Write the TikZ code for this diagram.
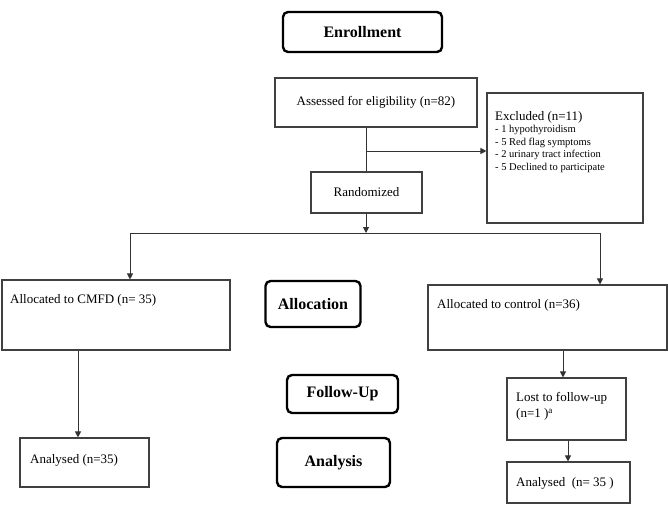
\documentclass[tikz,border=0pt]{standalone}
\usepackage{fontspec}
\setmainfont{Liberation Serif}
\usetikzlibrary{arrows.meta}
\begin{document}
\begin{tikzpicture}[x=1pt,y=-1pt,
  box/.style={draw=black!75, line width=1.1pt, inner sep=0pt},
  hdr/.style={draw=black, line width=2.4pt, rounded corners=5pt, inner sep=0pt, font=\fontsize{16}{18}\selectfont\bfseries},
  txt/.style={inner sep=0pt, anchor=west, font=\fontsize{13}{15}\selectfont},
  conn/.style={draw=black!80, line width=1pt},
  arr/.style={conn, -{Triangle[length=6pt,width=6pt]}}]
\useasboundingbox (0,0) rectangle (668,508);
% header boxes
\node[hdr, minimum width=159pt, minimum height=40pt] (enroll) at (362.5,32) {Enrollment};
\node[hdr, minimum width=95pt, minimum height=46pt] (alloc) at (313,304) {Allocation};
\node[hdr, minimum width=111pt, minimum height=38pt] (follow) at (342.5,394) {Follow-Up};
\node[hdr, minimum width=113pt, minimum height=49pt] (analysis) at (333.5,462.5) {Analysis};
% flow boxes
\node[box, minimum width=202pt, minimum height=49pt, font=\fontsize{13}{15}\selectfont] (assess) at (376,102.5) {Assessed for eligibility (n=82)};
\node[box, minimum width=156pt, minimum height=130pt] (excl) at (565,158) {};
\node[inner sep=0pt, anchor=north west, align=left, font=\fontsize{10.5}{12.5}\selectfont] (excltxt) at (495,111)
  {{\fontsize{13}{14}\selectfont Excluded (n=11)}\\- 1 hypothyroidism\\- 5 Red flag symptoms\\- 2 urinary tract infection\\- 5 Declined to participate};
\node[box, minimum width=111pt, minimum height=41pt, font=\fontsize{13}{15}\selectfont] (rand) at (366.5,192.5) {Randomized};
\node[box, minimum width=228pt, minimum height=70pt] (cmfd) at (116,315) {};
\node[txt] (cmfdtxt) at (10,300) {Allocated to CMFD (n= 35)};
\node[box, minimum width=239pt, minimum height=65pt] (ctrl) at (547.5,317.5) {};
\node[txt] (ctrltxt) at (437,305) {Allocated to control (n=36)};
\node[box, minimum width=119pt, minimum height=62pt] (lost) at (566.5,409) {};
\node[inner sep=0pt, anchor=north west, align=left, font=\fontsize{13}{16}\selectfont] (losttxt) at (516,392) {Lost to follow-up\\(n=1 )\textsuperscript{a}};
\node[box, minimum width=123pt, minimum height=41pt] (an2) at (568.5,482.5) {};
\node[txt] (an2txt) at (516,483) {Analysed~ (n= 35 )};
\node[box, minimum width=129pt, minimum height=49pt] (an1) at (84.5,462.5) {};
\node[txt] (an1txt) at (30,460) {Analysed (n=35)};
% connectors
\coordinate (split) at (366,151);
\coordinate (bar) at (366,233);
\coordinate (barL) at (130,233);
\coordinate (barR) at (600,233);
\draw[conn] (assess.south -| split) -- (rand.north -| split);
\draw[arr] (split) -- (excl.west |- split);
\draw[arr] (rand.south -| bar) -- (bar);
\draw[conn] (barL) -- (barR);
\draw[arr] (barL) -- (cmfd.north -| barL);
\draw[arr] (barR) -- (ctrl.north -| barR);
\draw[arr] (cmfd.south -| 78,0) -- (an1.north -| 78,0);
\draw[arr] (ctrl.south -| 563,0) -- (lost.north -| 563,0);
\draw[arr] (lost.south -| 568,0) -- (an2.north -| 568,0);
\end{tikzpicture}
\end{document}
